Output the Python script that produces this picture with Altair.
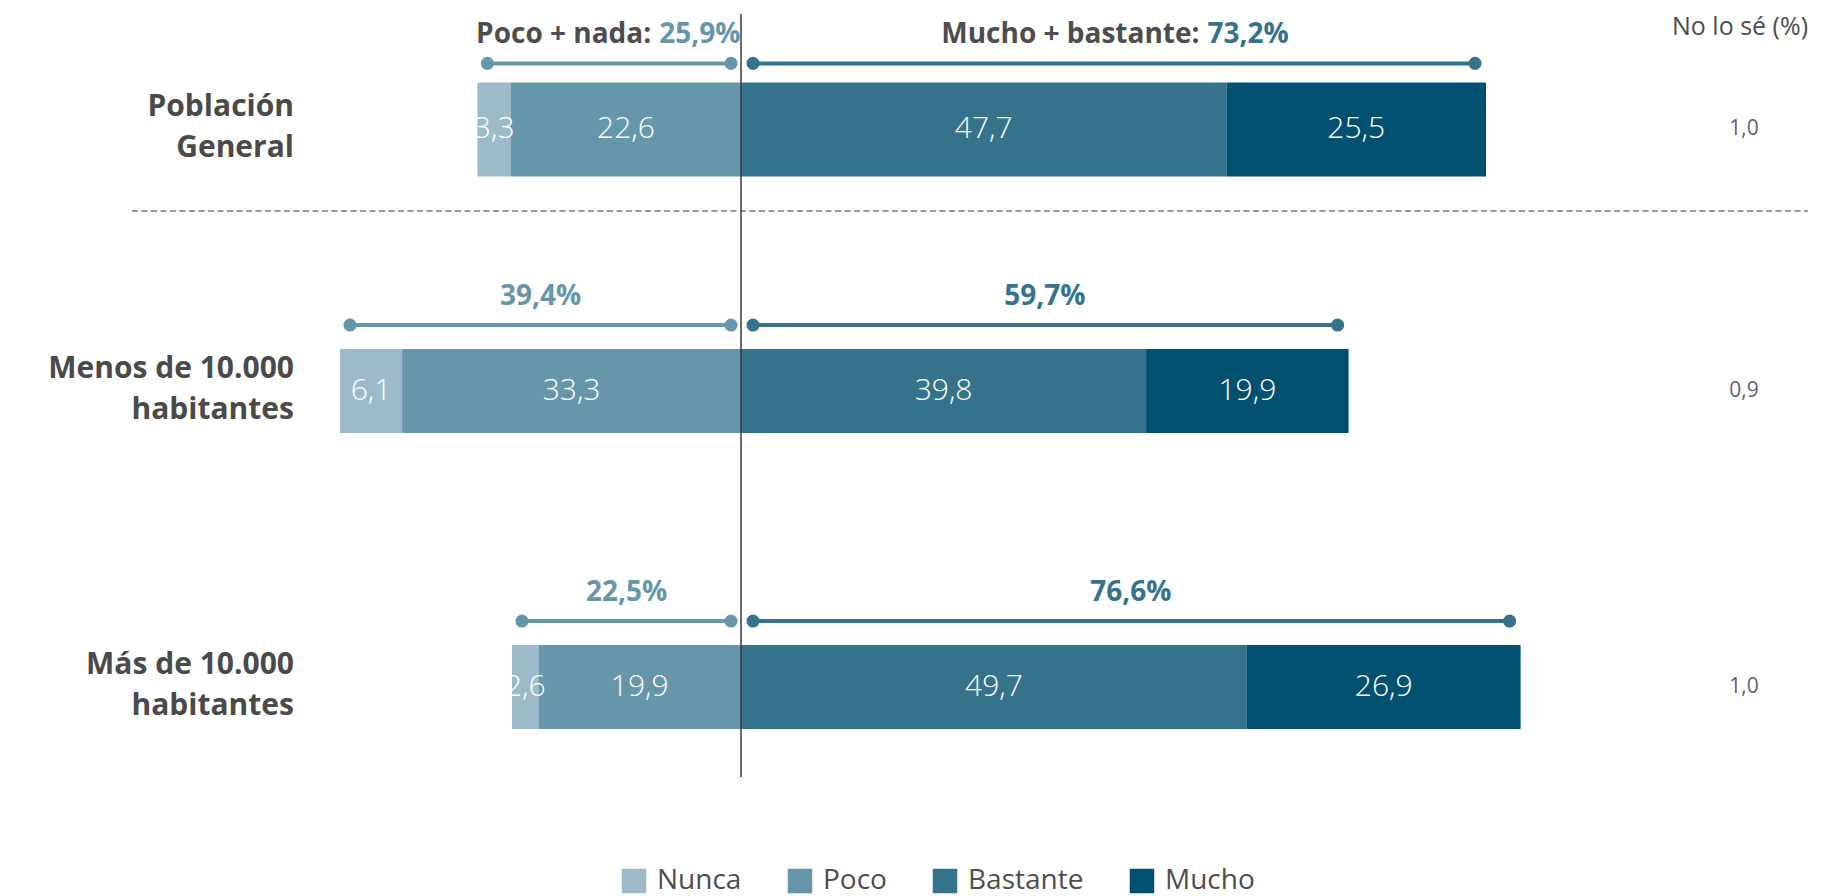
import altair as alt
import pandas as pd

# ---------------- data ----------------
groups = ["Población General", "Menos de 10.000 habitantes", "Más de 10.000 habitantes"]
group_labels = ["Población|General", "Menos de 10.000|habitantes", "Más de 10.000|habitantes"]
categories = ["Nunca", "Poco", "Bastante", "Mucho"]
nunca = [3.3, 6.1, 2.6]
poco = [22.6, 33.3, 19.9]
bastante = [47.7, 39.8, 49.7]
mucho = [25.5, 19.9, 26.9]
poco_nada = [25.9, 39.4, 22.5]
mucho_bastante = [73.2, 59.7, 76.6]
no_lo_se = [1.0, 0.9, 1.0]
colors = ["#9cbac7", "#6696aa", "#35738d", "#02506f"]

FONT = "Open Sans"
GRAY = "#4d4d4d"
W = 1820
X_DOMAIN = [-72.02, 106.8]


def fmt(v):
    return f"{v:.1f}".replace(".", ",")


seg_rows = []
for i, g in enumerate(groups):
    vals = {"Nunca": nunca[i], "Poco": poco[i], "Bastante": bastante[i], "Mucho": mucho[i]}
    bounds = {
        "Nunca": (-(nunca[i] + poco[i]), -poco[i]),
        "Poco": (-poco[i], 0.0),
        "Bastante": (0.0, bastante[i]),
        "Mucho": (bastante[i], bastante[i] + mucho[i]),
    }
    for c in categories:
        x0, x1 = bounds[c]
        seg_rows.append(dict(group=g, category=c, x0=x0, x1=x1,
                             mid=(x0 + x1) / 2, label=fmt(vals[c])))
seg = pd.DataFrame(seg_rows)

summary = pd.DataFrame(dict(
    group=groups,
    label=group_labels,
    neg=[-v for v in poco_nada],
    pos=mucho_bastante,
    zero=[0.0] * len(groups),
    neg_label=[fmt(v) + "%" for v in poco_nada],
    pos_label=[fmt(v) + "%" for v in mucho_bastante],
    ns=[fmt(v) for v in no_lo_se],
))
summary["neg_mid"] = summary["neg"] / 2
summary["pos_mid"] = summary["pos"] / 2
summary["neg_prefix"] = "Poco + nada:"
summary["pos_prefix"] = "Mucho + bastante:"

xs = alt.Scale(domain=X_DOMAIN, nice=False, zero=False)

legend = alt.Legend(
    orient="none", legendX=612, legendY=859, direction="horizontal", title=None,
    symbolType="square", symbolSize=600, symbolStrokeWidth=0, labelFontSize=28,
    labelFont=FONT, labelColor=GRAY, columnPadding=44, labelOffset=9,
)


def panel(idx, height, pad_inner, pad_outer, align, bar_size, top):
    gdom = [groups[i] for i in idx]
    s = seg[seg["group"].isin(gdom)]
    m = summary.iloc[idx].reset_index(drop=True)
    yenc = alt.Y("group:N", sort=gdom, axis=None,
                 scale=alt.Scale(domain=gdom, paddingInner=pad_inner,
                                 paddingOuter=pad_outer, align=align))
    layers = []
    layers.append(alt.Chart(s).mark_bar(size=bar_size).encode(
        x=alt.X("x0:Q", scale=xs, axis=None), x2="x1:Q", y=yenc,
        color=alt.Color("category:N", scale=alt.Scale(domain=categories, range=colors),
                        legend=legend),
    ))
    layers.append(alt.Chart(s).mark_text(font=FONT, fontSize=30, fontWeight=300,
                                         color="white", baseline="middle").encode(
        x=alt.X("mid:Q", scale=xs), y=yenc, text="label:N"))

    base = alt.Chart(m)
    dy = -66
    # left dumbbell (Poco + nada)
    layers.append(base.mark_rule(color=colors[1], strokeWidth=4, xOffset=10, x2Offset=-10,
                                 yOffset=dy).encode(
        x=alt.X("neg:Q", scale=xs), x2="zero:Q", y=yenc))
    layers.append(base.mark_circle(color=colors[1], opacity=1, size=170, xOffset=10,
                                   yOffset=dy).encode(x=alt.X("neg:Q", scale=xs), y=yenc))
    layers.append(base.mark_circle(color=colors[1], opacity=1, size=170, xOffset=-10,
                                   yOffset=dy).encode(x=alt.X("zero:Q", scale=xs), y=yenc))
    # right dumbbell (Mucho + bastante)
    layers.append(base.mark_rule(color=colors[2], strokeWidth=4, xOffset=12, x2Offset=-11,
                                 yOffset=dy).encode(
        x=alt.X("zero:Q", scale=xs), x2="pos:Q", y=yenc))
    layers.append(base.mark_circle(color=colors[2], opacity=1, size=170, xOffset=12,
                                   yOffset=dy).encode(x=alt.X("zero:Q", scale=xs), y=yenc))
    layers.append(base.mark_circle(color=colors[2], opacity=1, size=170, xOffset=-11,
                                   yOffset=dy).encode(x=alt.X("pos:Q", scale=xs), y=yenc))

    ly = -94
    fs = 28
    if top:
        layers.append(base.mark_text(
            font=FONT, fontSize=fs, fontWeight="bold", color=GRAY, align="right",
            baseline="middle", dx=42, yOffset=ly).encode(
            x=alt.X("neg_mid:Q", scale=xs), y=yenc, text="neg_prefix:N"))
        layers.append(base.mark_text(
            font=FONT, fontSize=fs, fontWeight="bold", color=colors[1], align="left",
            baseline="middle", dx=50, yOffset=ly).encode(
            x=alt.X("neg_mid:Q", scale=xs), y=yenc, text="neg_label:N"))
        layers.append(base.mark_text(
            font=FONT, fontSize=fs, fontWeight="bold", color=GRAY, align="right",
            baseline="middle", dx=86, yOffset=ly).encode(
            x=alt.X("pos_mid:Q", scale=xs), y=yenc, text="pos_prefix:N"))
        layers.append(base.mark_text(
            font=FONT, fontSize=fs, fontWeight="bold", color=colors[2], align="left",
            baseline="middle", dx=94, yOffset=ly).encode(
            x=alt.X("pos_mid:Q", scale=xs), y=yenc, text="pos_label:N"))
    else:
        layers.append(base.mark_text(
            font=FONT, fontSize=fs, fontWeight="bold", color=colors[1], align="center",
            baseline="middle", yOffset=ly).encode(
            x=alt.X("neg_mid:Q", scale=xs), y=yenc, text="neg_label:N"))
        layers.append(base.mark_text(
            font=FONT, fontSize=fs, fontWeight="bold", color=colors[2], align="center",
            baseline="middle", yOffset=ly).encode(
            x=alt.X("pos_mid:Q", scale=xs), y=yenc, text="pos_label:N"))

    # row labels (two lines, centred on the bar)
    layers.append(base.mark_text(font=FONT, fontSize=30, fontWeight="bold", color="#4a4a4a",
                                 align="right", baseline="middle", lineBreak="|",
                                 lineHeight=41, dy=-22).encode(
        x=alt.value(286), y=yenc, text="label:N"))
    # "No lo sé" column
    layers.append(base.mark_text(font=FONT, fontSize=21, color="#5f5f6b", align="center",
                                 baseline="middle").encode(
        x=alt.value(1736), y=yenc, text="ns:N"))

    one = alt.Chart(pd.DataFrame({"t": ["No lo sé (%)"], "zero": [0.0]}))
    if top:
        layers.append(one.mark_text(font=FONT, fontSize=25, color=GRAY, align="center",
                                    baseline="top").encode(
            x=alt.value(1732), y=alt.value(7), text="t:N"))
        layers.append(one.mark_rule(color="#7a7585", strokeWidth=1.3, strokeDash=[6, 3.5]).encode(
            x=alt.value(124), x2=alt.value(1800), y=alt.value(height - 1)))
        layers.append(one.mark_rule(color="#3a3a3a", strokeWidth=1.5).encode(
            x=alt.X("zero:Q", scale=xs), y=alt.value(6), y2=alt.value(height)))
    else:
        layers.append(one.mark_rule(color="#3a3a3a", strokeWidth=1.5).encode(
            x=alt.X("zero:Q", scale=xs)))

    return alt.layer(*layers).properties(width=W, height=height)


top_panel = panel([0], 204, 0.0, 0.5, 0.69, 94, True)
bottom_panel = panel([1, 2], 565, 0.5, 0.2045, 0.868, 84, False)

chart = alt.vconcat(top_panel, bottom_panel, spacing=0, bounds="flush").properties(
    padding={"left": 0, "top": 0, "right": 0, "bottom": 10}
).configure_view(stroke=None)

chart.save("out.html", embed_options={"renderer": "svg", "actions": False})
